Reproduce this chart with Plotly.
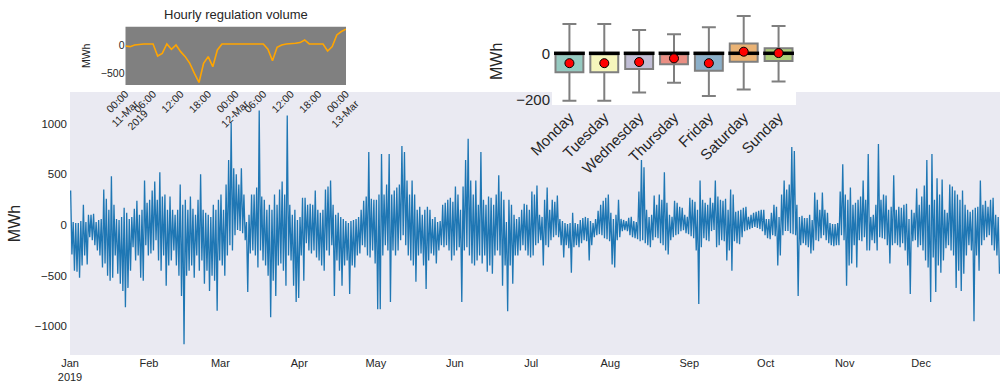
import pandas as pd
import plotly.graph_objects as go

# Daily high / low of the hourly regulation volume in 2019 (MWh)
daily_high = [
    340, 30, 20, 20, 40, 200, 30, 100, 100, 110,
    30, 50, 60, 350, 260, 150, 480, 200, 60, 50,
    80, 170, 120, 60, 80, 160, 240, 100, 150, 440,
    220, 250, 340, 430, 250, 520, 280, 300, 150, 280,
    150, 100, 150, 400, 200, 250, 150, 280, 160, 100,
    250, 500, 150, 120, 100, 80, 200, 150, 250, 300,
    150, 400, 640, 1010, 560, 500, 400, 560, 300, 30,
    100, 300, 300, 370, 1130, 280, 250, 150, 200, 150,
    300, 200, 350, 430, 300, 1080, 200, 100, 150, 50,
    80, 270, 270, 200, 210, 200, 340, 150, 120, 150,
    350, 380, 440, 200, 100, 120, 80, 60, 40, 20,
    40, 50, 60, 80, 150, 240, 280, 720, 260, 250,
    250, 300, 700, 300, 400, 700, 300, 340, 370, 400,
    780, 720, 440, 300, 440, 300, 150, 180, 100, 150,
    180, 150, 60, 80, 30, 40, 200, 220, 250, 270,
    230, 380, 300, 150, 380, 640, 850, 440, 300, 440,
    200, 720, 250, 200, 280, 270, 200, 300, 490, 330,
    250, 30, 250, 200, 100, 60, 80, 150, 210, 200,
    150, 330, 300, 390, 100, 80, 250, 370, 150, 250,
    230, 290, 60, 40, 20, 10, 20, 120, 20, 10,
    50, 70, 80, 70, 40, 20, 60, 140, 200, 240,
    270, 300, 120, 60, 100, 250, 60, 50, 40, 70,
    80, 40, 30, 330, 640, 570, 150, 80, 100, 290,
    200, 300, 250, 520, 220, 100, 80, 240, 220, 180,
    170, 100, 80, 270, 250, 230, 150, 440, 250, 220,
    200, 270, 220, 440, 280, 250, 240, 260, 150, 350,
    300, 130, 140, 150, 170, 180, 80, 100, 120, 130,
    140, 150, 150, 60, 60, 120, 200, 180, 80, 300,
    440, 350, 400, 770, 730, 200, 80, 90, 70, 70,
    100, 50, 320, 250, 150, 320, 150, 120, 20, 10,
    10, 20, 330, 600, 300, 250, 370, 200, 220, 250,
    280, 440, 250, 700, 80, 100, 200, 800, 250, 300,
    290, 150, 180, 490, 150, 180, 170, 200, 210, 60,
    150, 120, 360, 200, 280, 390, 640, 200, 700, 250,
    460, 300, 450, 150, 120, 400, 380, 340, 300, 250,
    340, 200, 150, 130, 150, 170, 180, 440, 200, 240,
    180, 250, 270, 100, 80,
]
daily_low = [
    -290, -450, -460, -520, -400, -300, -390, -120, -150, -200,
    -250, -300, -420, -380, -500, -550, -520, -300, -480, -580,
    -650, -810, -620, -450, -220, -350, -300, -520, -550, -200,
    -300, -280, -250, -150, -350, -450, -300, -600, -400, -350,
    -250, -400, -500, -700, -1175, -500, -450, -400, -520, -300,
    -450, -350, -580, -450, -650, -500, -550, -845, -350, -400,
    -500, -300, -200, -250, -100, -50, -60, -80, -150, -660,
    -280, -250, -300, -420, -250, -350, -400, -500, -910, -550,
    -700, -400, -380, -450, -600, -300, -350, -600, -760, -720,
    -300, -550, -180, -250, -280, -250, -320, -350, -400, -450,
    -250, -300, -200, -700, -350, -450, -600, -400, -350, -680,
    -400, -420, -300, -280, -200, -220, -300, -320, -250, -380,
    -830, -830, -300, -200, -250, -760, -250, -300, -250, -150,
    -100, -200, -300, -350, -400, -560, -300, -280, -400, -630,
    -350, -280, -300, -380, -250, -200, -220, -200, -250, -350,
    -300, -250, -220, -760, -250, -220, -300, -380, -400, -350,
    -300, -380, -300, -460, -400, -480, -300, -250, -300, -600,
    -400, -850, -400, -580, -300, -300, -250, -200, -250, -300,
    -320, -300, -200, -180, -150, -400, -200, -220, -150, -120,
    -100, -120, -200, -320, -200, -230, -470, -220, -200, -220,
    -180, -150, -160, -350, -200, -120, -100, -90, -100, -130,
    -140, -160, -390, -420, -150, -120, -60, -50, -60, -100,
    -120, -130, -140, -160, -150, -180, -200, -220, -150, -120,
    -130, -180, -200, -250, -290, -150, -120, -100, -90, -60,
    -50, -80, -90, -110, -130, -250, -780, -220, -130, -150,
    -160, -60, -50, -220, -200, -150, -160, -350, -250, -450,
    -160, -180, -190, -120, -60, -50, -40, -30, -20, -30,
    -40, -60, -100, -130, -140, -100, -110, -400, -300, -100,
    -60, -60, -80, -90, -100, -700, -200, -180, -200, -220,
    -280, -250, -150, -160, -130, -100, -150, -180, -200, -210,
    -200, -200, -100, -150, -600, -400, -380, -200, -420, -150,
    -160, -120, -250, -250, -150, -180, -250, -120, -130, -140,
    -200, -380, -200, -180, -200, -220, -180, -250, -400, -680,
    -160, -150, -220, -200, -250, -350, -420, -760, -320, -660,
    -400, -470, -350, -230, -200, -250, -300, -620, -450, -650,
    -480, -300, -200, -250, -950, -300, -450, -200, -150, -120,
    -100, -200, -250, -300, -480,
]

# Hourly regulation volume, 11 Mar 2019 00:00 - 13 Mar 2019 00:00 (MWh)
march_hourly = [
    -12, -24, 6, 18, 24, 24, 24, -190, -143, 24,
    -71, 6, -113, -202, -321, -500, -660, -321, -202, -380,
    -83, 24, 24, 24, 24, 24, 24, 24, 24, 24,
    24, -71, -274, -36, 6, 24, 24, 36, 48, 95,
    24, 24, 24, 24, -101, -24, 184, 244, 286,
]
march_tick_labels = [
    "00:00<br>11-Mar<br>2019", "06:00", "12:00", "18:00",
    "00:00<br>12-Mar", "06:00", "12:00", "18:00", "00:00<br>13-Mar",
]

# Weekday distribution (MWh)
weekdays = ["Monday", "Tuesday", "Wednesday", "Thursday", "Friday", "Saturday", "Sunday"]
box_lower = [-207, -207, -171, -128, -186, -157, -123]
box_q1 = [-83, -83, -68, -48, -76, -37, -33]
box_median = [0, 0, 0, 0, 0, 0, 0]
box_q3 = [0, 0, 0, 0, 0, 43, 22]
box_upper = [127, 127, 101, 83, 113, 162, 119]
box_mean = [-43, -43, -38, -22, -43, 7, 1]
box_colors = ["#96cac1", "#f6f6bc", "#c1bed6", "#ea8e83", "#8bafc9", "#eab375", "#afcf78"]

month_starts = pd.date_range("2019-01-01", periods=12, freq="MS")
month_labels = ["Jan<br>2019", "Feb", "Mar", "Apr", "May", "Jun",
                "Jul", "Aug", "Sep", "Oct", "Nov", "Dec"]

W, H = 1003, 385
FONT = "Liberation Sans, Arial, sans-serif"
TXT = "#262626"

# Two samples per day: the day's high in the morning, the low in the evening
days = pd.date_range("2019-01-01", periods=len(daily_high), freq="D")
x_main, y_main = [], []
for d, hi, lo in zip(days, daily_high, daily_low):
    x_main += [d + pd.Timedelta(hours=6), d + pd.Timedelta(hours=18)]
    y_main += [hi, lo]

hours = pd.date_range("2019-03-11", periods=len(march_hourly), freq="h")

fig = go.Figure()
fig.add_trace(go.Scatter(x=x_main, y=y_main, mode="lines",
                         line=dict(color="#1f77b4", width=1.3),
                         xaxis="x", yaxis="y", hoverinfo="skip"))
fig.add_trace(go.Scatter(x=hours, y=march_hourly, mode="lines",
                         line=dict(color="#ffa500", width=1.6),
                         xaxis="x2", yaxis="y2"))
for i, day in enumerate(weekdays):
    fig.add_trace(go.Box(
        x=[day], q1=[box_q1[i]], median=[box_median[i]], q3=[box_q3[i]],
        lowerfence=[box_lower[i]], upperfence=[box_upper[i]],
        fillcolor=box_colors[i], line=dict(color="#7f7f7f", width=2),
        whiskerwidth=0.5, width=0.8, boxpoints=False,
        xaxis="x3", yaxis="y3"))
# thick black median bars (line-ew spans 1.4 x marker size)
fig.add_trace(go.Scatter(x=weekdays, y=box_median, mode="markers",
                         marker=dict(symbol="line-ew", size=22,
                                     line=dict(color="black", width=3.5)),
                         xaxis="x3", yaxis="y3"))
fig.add_trace(go.Scatter(x=weekdays, y=box_mean, mode="markers",
                         marker=dict(color="red", size=9,
                                     line=dict(color="black", width=1)),
                         xaxis="x3", yaxis="y3"))

plain = dict(showgrid=False, zeroline=False, showline=False, ticks="", automargin=False)

fig.update_layout(
    width=W, height=H, margin=dict(l=0, r=0, t=0, b=0, autoexpand=False),
    paper_bgcolor="white", plot_bgcolor="rgba(0,0,0,0)",
    showlegend=False,
    font=dict(family=FONT, color=TXT),
    xaxis=dict(domain=[70 / W, 1000 / W], anchor="y", type="date",
               range=["2019-01-01", "2019-12-31 23:00"],
               tickvals=month_starts, ticktext=month_labels,
               tickfont=dict(size=11), **plain),
    yaxis=dict(domain=[30 / H, 293 / H], anchor="x", range=[-1282, 1312],
               tickvals=[-1000, -500, 0, 500, 1000], tickfont=dict(size=11.5),
               ticklabelstandoff=2,
               title=dict(text="MWh", font=dict(size=16), standoff=10), **plain),
    xaxis2=dict(domain=[125.5 / W, 346 / W], anchor="y2", type="date",
                range=[hours[0], hours[-1]],
                tickvals=hours[::6], ticktext=march_tick_labels,
                tickangle=-45, tickfont=dict(size=10.5), **plain),
    yaxis2=dict(domain=[300 / H, 358.3 / H], anchor="x2", range=[-705, 330],
                tickvals=[-500, 0], tickfont=dict(size=10.5),
                title=dict(text="MWh", font=dict(size=10.5), standoff=8), **plain),
    xaxis3=dict(domain=[552 / W, 796 / W], anchor="y3", type="category",
                categoryorder="array", categoryarray=weekdays, range=[-0.5, 6.5],
                tickangle=-45, tickfont=dict(size=15), **plain),
    yaxis3=dict(domain=[280 / H, 1], anchor="x3", range=[-225, 232],
                tickvals=[-200, 0], tickfont=dict(size=15), ticklabelstandoff=1,
                **plain),
    shapes=[
        dict(type="rect", xref="x domain", yref="y domain", x0=0, x1=1, y0=0, y1=1,
             fillcolor="#eaeaf2", line=dict(width=0), layer="below"),
        dict(type="rect", xref="x2 domain", yref="y2 domain", x0=0, x1=1, y0=0, y1=1,
             fillcolor="#808080", line=dict(width=0), layer="below"),
        dict(type="rect", xref="x3 domain", yref="y3 domain", x0=0, x1=1, y0=0, y1=1,
             fillcolor="white", line=dict(width=0), layer="below"),
    ],
    annotations=[
        dict(text="Hourly regulation volume", xref="x2 domain", yref="paper",
             x=0.5, y=1 - 14 / H, xanchor="center", yanchor="middle",
             showarrow=False, font=dict(size=13, color=TXT)),
        dict(text="MWh", textangle=-90, xref="paper", yref="paper",
             x=496 / W, y=1 - 62 / H, xanchor="center", yanchor="middle",
             showarrow=False, font=dict(size=16, color=TXT)),
    ],
)

fig.write_html("out.html")
